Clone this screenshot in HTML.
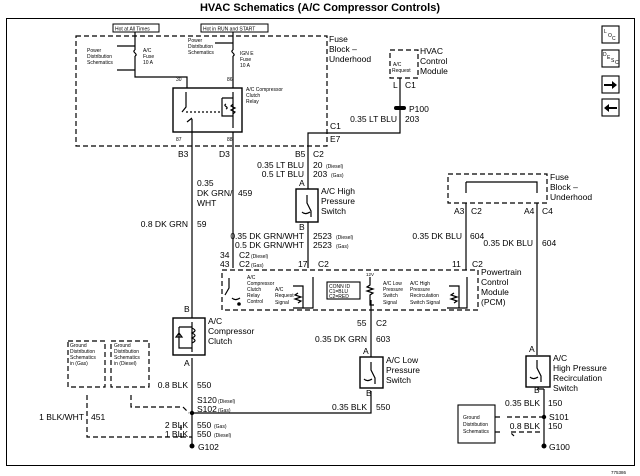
<!DOCTYPE html>
<html><head><meta charset="utf-8"><style>
html,body{margin:0;padding:0;background:#fff}
svg{display:block}
text{font-family:"Liberation Sans",sans-serif;fill:#000}
.s{font-size:5px}.m{font-size:8.5px}
.e{text-anchor:end}
</style></head><body>
<svg width="640" height="476" viewBox="0 0 640 476" xmlns="http://www.w3.org/2000/svg">
<text x="320" y="11" text-anchor="middle" font-size="11" font-weight="bold">HVAC Schematics (A/C Compressor Controls)</text>
<rect x="6.5" y="18.5" width="628" height="447" fill="none" stroke="#000" stroke-width="1"/>
<text x="626" y="474" font-size="4.5" text-anchor="end">775386</text>
<g fill="none" stroke="#000" stroke-width="1.1">
<rect x="602" y="26" width="17" height="17"/><rect x="602" y="50" width="17" height="17"/>
<rect x="602" y="76" width="17" height="17"/><rect x="602" y="99" width="17" height="17"/>
</g>
<text x="604" y="33" font-size="5">L</text><text x="608" y="37" font-size="5">O</text><text x="612" y="40" font-size="5">C</text>
<text x="603" y="56" font-size="5">D</text><text x="607" y="59" font-size="5">E</text><text x="611" y="62" font-size="5">S</text><text x="615" y="64" font-size="5">C</text>
<path d="M604 84h8v-3l5 4-5 4v-3h-8z" fill="#000"/><path d="M617 107h-8v-3l-5 4 5 4v-3h8z" fill="#000"/>
<g fill="none" stroke="#000" stroke-width="1.2" stroke-dasharray="5,3">
<rect x="76" y="36" width="251" height="110"/>
<rect x="390" y="50" width="28" height="28"/>
<rect x="448" y="174" width="99" height="29"/>
<rect x="222" y="270" width="256" height="40"/>
<rect x="68" y="341" width="37" height="46"/>
<rect x="111" y="341" width="38" height="46"/>
<path d="M87 395v42h105M131 395v12h52l6 6" />
<path d="M181 425v15"/>
<path d="M500 417h-6M544 417h-40M500 432h-6M540 432h-30l4 4"/>
</g>
<g fill="none" stroke="#000" stroke-width="1.2">
<rect x="113" y="24" width="46" height="8" stroke-width="1"/><rect x="201" y="24" width="67" height="8" stroke-width="1"/>
<path d="M135 32v18M135 56v21h52v11"/>
<path d="M135 50c-4 2 4 4 0 6" />
<path d="M135 46h-18M135 70h-18"/>
<path d="M233 32v18M233 56v32M233 43h-18"/><path d="M233 50c-4 2 4 4 0 6"/>
<rect x="173" y="88" width="69" height="44" stroke-width="1.4"/>
<path d="M186 92v15l-4 5M192 119v13M187 122l5 -4" />
<path d="M233 92v36M222 98h11M222 98v18h11M226 104c-4 2 4 3 0 5M233 104l-2 2 4 2-4 2 4 2-2 2"/>
<path d="M186 112h36" stroke-dasharray="2,2"/>
<path d="M192 132v186M233 132v136"/>
<path d="M400 78v28M400 110v23H308v56"/>
<rect x="296" y="189" width="22" height="33" stroke-width="1.4"/>
<path d="M307 195v8l4 8v6M302 212c2 2 5 2 8 0" />
<path d="M308 222v46"/>
<path d="M466 182h71v11M466 182v11M466 203v67M537 203v152"/>
<rect x="173" y="318" width="32" height="37" stroke-width="1.4"/>
<path d="M192 322v30M179 327h13M179 327v21h13M179 333l3 4h-6zM192 328c4 2 4 3 0 5c4 2 4 3 0 5c4 2 4 3 0 5"/>
<path d="M192 358v90"/>
<path d="M229 278v10l-4 7M232 298c2 2 5 2 8 0" />
<path d="M293 286h10v22h-10M313 277v31h-10M298 293l-3 2 6 2-6 2 6 2-3 2"/>
<rect x="327" y="282" width="33" height="17" stroke-width="1.1"/>
<path d="M370 277v8l-3 2 6 2-6 2 6 2-3 2v10h4M371 300v10"/>
<path d="M449 286h10v22h-12M467 277v31h-8M454 293l-3 2 6 2-6 2 6 2-3 2"/>
<path d="M371 310v47"/>
<rect x="360" y="357" width="23" height="31" stroke-width="1.4"/>
<path d="M371 362v8l4 8v6M364 379c2 2 5 2 8 0"/>
<path d="M371 391v22H192"/>
<rect x="526" y="356" width="24" height="31" stroke-width="1.4"/>
<path d="M537 360v8l4 8v6M530 377c2 2 5 2 8 0"/>
<path d="M544 389v55M537 389h7"/>
<rect x="458" y="405" width="37" height="38" stroke-width="1.1"/>
</g>
<g fill="#000">
<rect x="394" y="106" width="12" height="4" rx="2"/>
<circle cx="192" cy="413" r="2.2"/><circle cx="192" cy="446" r="2.5"/>
<circle cx="544" cy="417" r="2.2"/><circle cx="544" cy="446" r="2.5"/>
<circle cx="239" cy="304" r="1.8"/>
</g>
<text x="115" y="30.5" class="s">Hot at All Times</text><text x="203" y="30.5" class="s">Hot in RUN and START</text>
<text x="87" y="52" class="s">Power</text><text x="87" y="58" class="s">Distribution</text><text x="87" y="64" class="s">Schematics</text>
<text x="143" y="52" class="s">A/C</text><text x="143" y="58" class="s">Fuse</text><text x="143" y="64" class="s">10 A</text>
<text x="188" y="42" class="s">Power</text><text x="188" y="48" class="s">Distribution</text><text x="188" y="54" class="s">Schematics</text>
<text x="240" y="55" class="s">IGN E</text><text x="240" y="61" class="s">Fuse</text><text x="240" y="67" class="s">10 A</text>
<text x="176" y="81" class="s">30</text><text x="227" y="81" class="s">86</text><text x="176" y="141" class="s">87</text><text x="227" y="141" class="s">88</text>
<text x="246" y="91" class="s">A/C Compressor</text><text x="246" y="97" class="s">Clutch</text><text x="246" y="103" class="s">Relay</text>
<text x="329" y="42" class="m">Fuse</text><text x="329" y="52" class="m">Block –</text><text x="329" y="62" class="m">Underhood</text>
<text x="420" y="54" class="m">HVAC</text><text x="420" y="64" class="m">Control</text><text x="420" y="74" class="m">Module</text>
<text x="393" y="66" class="s">A/C</text><text x="392" y="72" class="s">Request</text>
<text x="393" y="88" class="m">L</text><text x="405" y="88" class="m">C1</text><text x="409" y="112" class="m">P100</text>
<text x="397" y="122" class="m e">0.35 LT BLU</text><text x="405" y="122" class="m">203</text>
<text x="330" y="129" class="m">C1</text><text x="330" y="142" class="m">E7</text>
<text x="178" y="157" class="m">B3</text><text x="219" y="157" class="m">D3</text><text x="295" y="157" class="m">B5</text><text x="313" y="157" class="m">C2</text>
<text x="304" y="168" class="m e">0.35 LT BLU</text><text x="313" y="168" class="m">20</text><text x="326" y="168" font-size="5">(Diesel)</text>
<text x="304" y="177" class="m e">0.5 LT BLU</text><text x="313" y="177" class="m">203</text><text x="331" y="177" font-size="5">(Gas)</text>
<text x="299" y="186" class="m">A</text>
<text x="321" y="194" class="m">A/C High</text><text x="321" y="204" class="m">Pressure</text><text x="321" y="214" class="m">Switch</text>
<text x="299" y="230" class="m">B</text>
<text x="197" y="186" class="m">0.35</text><text x="197" y="196" class="m">DK GRN/</text><text x="197" y="206" class="m">WHT</text><text x="238" y="196" class="m">459</text>
<text x="188" y="227" class="m e">0.8 DK GRN</text><text x="197" y="227" class="m">59</text>
<text x="304" y="239" class="m e">0.35 DK GRN/WHT</text><text x="313" y="239" class="m">2523</text><text x="336" y="239" font-size="5">(Diesel)</text>
<text x="304" y="248" class="m e">0.5 DK GRN/WHT</text><text x="313" y="248" class="m">2523</text><text x="336" y="248" font-size="5">(Gas)</text>
<text x="220" y="258" class="m">34</text><text x="239" y="258" class="m">C2</text><text x="251" y="258" font-size="5">(Diesel)</text>
<text x="220" y="267" class="m">43</text><text x="239" y="267" class="m">C2</text><text x="251" y="267" font-size="5">(Gas)</text>
<text x="298" y="267" class="m">17</text><text x="318" y="267" class="m">C2</text>
<text x="462" y="239" class="m e">0.35 DK BLU</text><text x="470" y="239" class="m">604</text>
<text x="533" y="246" class="m e">0.35 DK BLU</text><text x="542" y="246" class="m">604</text>
<text x="452" y="267" class="m">11</text><text x="472" y="267" class="m">C2</text>
<text x="454" y="214" class="m">A3</text><text x="471" y="214" class="m">C2</text><text x="524" y="214" class="m">A4</text><text x="542" y="214" class="m">C4</text>
<text x="550" y="180" class="m">Fuse</text><text x="550" y="190" class="m">Block –</text><text x="550" y="200" class="m">Underhood</text>
<text x="481" y="275" class="m">Powertrain</text><text x="481" y="285" class="m">Control</text><text x="481" y="295" class="m">Module</text><text x="481" y="305" class="m">(PCM)</text>
<text x="247" y="279" class="s">A/C</text><text x="247" y="285" class="s">Compressor</text><text x="247" y="291" class="s">Clutch</text><text x="247" y="297" class="s">Relay</text><text x="247" y="303" class="s">Control</text>
<text x="275" y="291" class="s">A/C</text><text x="275" y="297" class="s">Request</text><text x="275" y="304" class="s">Signal</text>
<text x="329" y="288" class="s">CONN ID</text><text x="329" y="293" class="s">C1=BLU</text><text x="329" y="298" class="s">C2=RED</text>
<text x="366" y="276" font-size="4.5">12V</text>
<text x="383" y="285" class="s">A/C Low</text><text x="383" y="291" class="s">Pressure</text><text x="383" y="297" class="s">Switch</text><text x="383" y="304" class="s">Signal</text>
<text x="410" y="285" class="s">A/C High</text><text x="410" y="291" class="s">Pressure</text><text x="410" y="297" class="s">Recirculation</text><text x="410" y="304" class="s">Switch Signal</text>
<text x="184" y="312" class="m">B</text>
<text x="208" y="324" class="m">A/C</text><text x="208" y="334" class="m">Compressor</text><text x="208" y="344" class="m">Clutch</text>
<text x="184" y="366" class="m">A</text>
<text x="357" y="326" class="m">55</text><text x="376" y="326" class="m">C2</text>
<text x="367" y="342" class="m e">0.35 DK GRN</text><text x="376" y="342" class="m">603</text>
<text x="363" y="354" class="m">A</text>
<text x="386" y="363" class="m">A/C Low</text><text x="386" y="373" class="m">Pressure</text><text x="386" y="383" class="m">Switch</text>
<text x="366" y="396" class="m">B</text>
<text x="367" y="410" class="m e">0.35 BLK</text><text x="376" y="410" class="m">550</text>
<text x="529" y="352" class="m">A</text>
<text x="553" y="361" class="m">A/C</text><text x="553" y="371" class="m">High Pressure</text><text x="553" y="381" class="m">Recirculation</text><text x="553" y="391" class="m">Switch</text>
<text x="534" y="393" class="m">B</text>
<text x="540" y="406" class="m e">0.35 BLK</text><text x="548" y="406" class="m">150</text>
<text x="549" y="420" class="m">S101</text>
<text x="540" y="429" class="m e">0.8 BLK</text><text x="548" y="429" class="m">150</text>
<text x="549" y="450" class="m">G100</text>
<text x="463" y="419" class="s">Ground</text><text x="463" y="426" class="s">Distribution</text><text x="463" y="433" class="s">Schematics</text>
<text x="70" y="347" class="s">Ground</text><text x="70" y="353" class="s">Distribution</text><text x="70" y="359" class="s">Schematics</text><text x="70" y="365" class="s">in (Gas)</text>
<text x="114" y="347" class="s">Ground</text><text x="114" y="353" class="s">Distribution</text><text x="114" y="359" class="s">Schematics</text><text x="114" y="365" class="s">in (Diesel)</text>
<text x="188" y="388" class="m e">0.8 BLK</text><text x="197" y="388" class="m">550</text>
<text x="197" y="403" class="m">S120</text><text x="218" y="403" font-size="5">(Diesel)</text>
<text x="197" y="412" class="m">S102</text><text x="218" y="412" font-size="5">(Gas)</text>
<text x="84" y="420" class="m e">1 BLK/WHT</text><text x="91" y="420" class="m">451</text>
<text x="188" y="428" class="m e">2 BLK</text><text x="197" y="428" class="m">550</text><text x="214" y="428" font-size="5">(Gas)</text>
<text x="188" y="437" class="m e">1 BLK</text><text x="197" y="437" class="m">550</text><text x="214" y="437" font-size="5">(Diesel)</text>
<text x="198" y="450" class="m">G102</text>
</svg>
</body></html>
